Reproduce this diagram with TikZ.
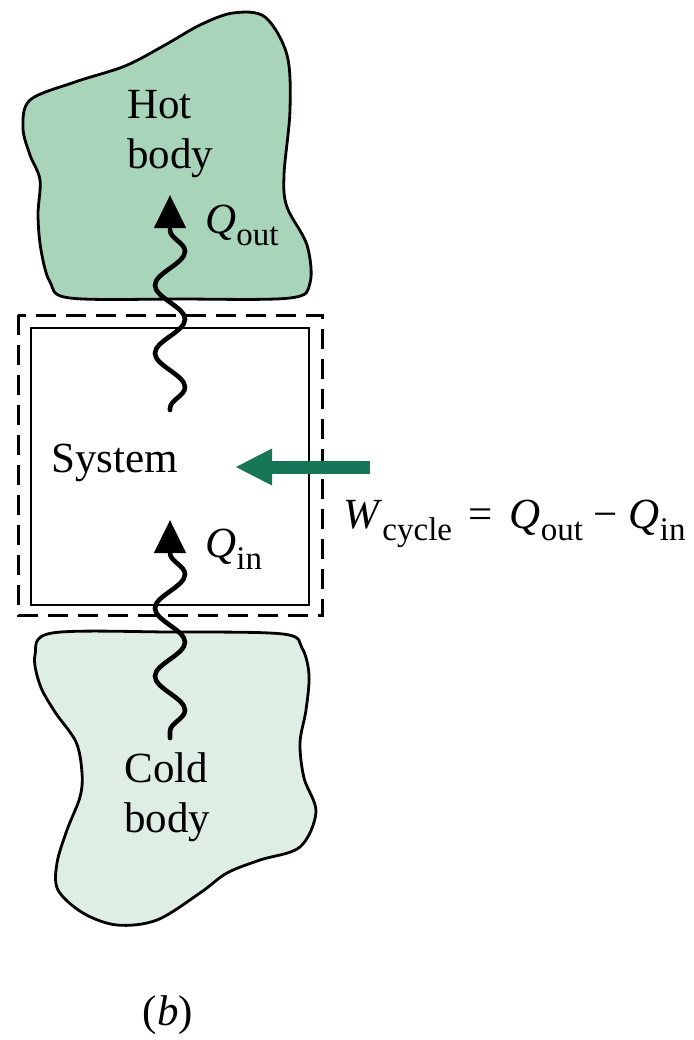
\documentclass[tikz,border=0pt]{standalone}
\usepackage{fontspec}
\setmainfont{Liberation Serif}
\usepackage{tikz}
\usetikzlibrary{arrows.meta,decorations.pathmorphing}

\definecolor{hotgreen}{RGB}{168,212,186}
\definecolor{coldgreen}{RGB}{222,238,228}
\definecolor{workgreen}{RGB}{24,118,88}

\newcommand{\lowsub}[1]{\raisebox{-6pt}{\fontsize{16.5}{16.5}\selectfont #1}}
\newcommand{\Qsym}[1]{\textit{Q}\lowsub{#1}}

\begin{document}
\begin{tikzpicture}[
  x=0.5pt, y=-0.5pt,
  blob/.style={draw, line width=1.4pt},
  lbl/.style={inner sep=0pt, font=\fontsize{21.5}{25}\selectfont, align=left},
  heat/.style={line width=2.3pt, line cap=round, decorate, decoration={snake, amplitude=7.5pt, segment length=34pt}},
  heathead/.style={line width=2.3pt, -{Triangle[length=16.5pt,width=15.5pt]}},
  work/.style={line width=6.5pt, workgreen, -{Triangle[length=18.5pt,width=17pt]}},
]
\useasboundingbox (0,0) rectangle (693,1040);

% hot and cold bodies
\draw[blob, fill=hotgreen] plot[smooth cycle, tension=0.55] coordinates {
  (30,100) (23,128) (30,155) (40,180) (38,215) (41,250) (50,282) (70,298)
  (180,299) (290,298) (310,283) (307,245) (287,207) (284,175) (290,110)
  (287,55) (265,17) (233,13) (200,25) (165,45) (125,66) (75,82)};
\draw[blob, fill=coldgreen] plot[smooth cycle, tension=0.55] coordinates {
  (52,633) (170,632) (283,634) (302,648) (309,675) (306,710) (300,743)
  (304,778) (316,812) (300,847) (260,860) (227,873) (200,893) (157,920)
  (117,925) (83,913) (58,890) (57,863) (67,830) (80,797) (82,773) (76,742)
  (55,712) (40,685) (35,655)};

% system boundary
\draw[line width=1.4pt] (31,328) rectangle (309,605);
\draw[line width=1.5pt, dash pattern=on 10pt off 5pt] (18,315) rectangle (322,615);

% heat transfer
\coordinate (qout-tip) at (170,195);
\coordinate (qout-base) at (170,230);
\coordinate (qout-end) at (170,410);
\coordinate (qin-tip) at (170,520);
\coordinate (qin-base) at (170,553);
\coordinate (qin-end) at (170,738);
\draw[heat] (qout-base) -- (qout-end);
\draw[heathead] (qout-base) -- (qout-tip);
\draw[heat] (qin-base) -- (qin-end);
\draw[heathead] (qin-base) -- (qin-tip);

% work
\coordinate (work-start) at (370,467);
\coordinate (work-tip) at (235,467);
\draw[work] (work-start) -- (work-tip);

% labels
\node[lbl, anchor=base west] (hot) at (127,168) {Hot\\body};
\node[lbl, anchor=base west] (cold) at (124,832) {Cold\\body};
\node[lbl, anchor=base west] (sys) at (51,472) {System};
\node[lbl, anchor=base west] (qout) at (205,233) {\Qsym{out}};
\node[lbl, anchor=base west] (qin) at (205,557) {\Qsym{in}};
\node[lbl, anchor=base west] (wcyc) at (343,528) {\textit{W}\lowsub{cycle}\hspace{3pt} = \hspace{3pt}\Qsym{out} − \Qsym{in}};
\node[lbl, anchor=base] (cap) at (168,1025) {(\textit{b})};
\end{tikzpicture}
\end{document}
